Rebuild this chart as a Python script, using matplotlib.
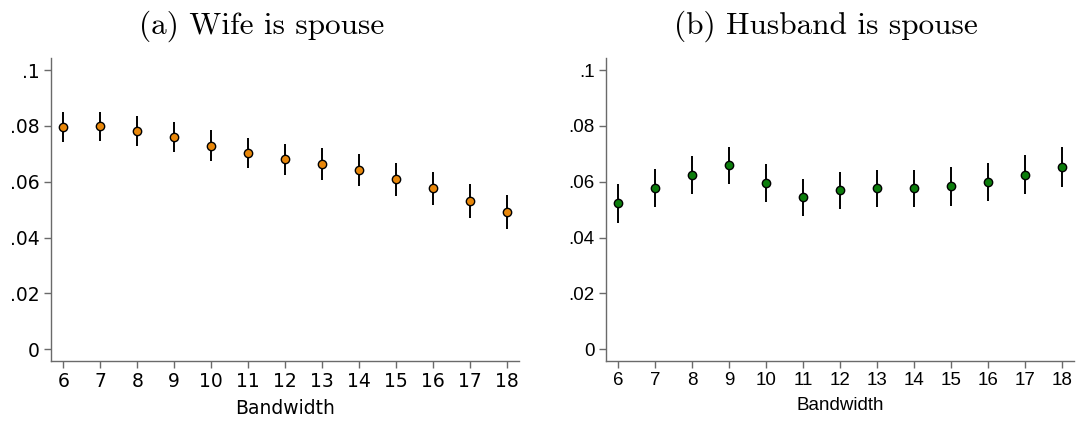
import matplotlib
matplotlib.use("Agg")
import matplotlib.pyplot as plt

# Bandwidth sensitivity: point estimates with 95% CIs
bandwidth = [6, 7, 8, 9, 10, 11, 12, 13, 14, 15, 16, 17, 18]

wife_est = [0.0797, 0.0798, 0.0783, 0.0761, 0.0729, 0.0702, 0.0681,
            0.0663, 0.0642, 0.0609, 0.0576, 0.0531, 0.0490]
wife_hi = [0.0851, 0.0851, 0.0835, 0.0815, 0.0784, 0.0757, 0.0735,
           0.0720, 0.0699, 0.0666, 0.0634, 0.0591, 0.0551]
wife_lo = [0.0743, 0.0746, 0.0729, 0.0707, 0.0675, 0.0648, 0.0624,
           0.0606, 0.0585, 0.0550, 0.0518, 0.0471, 0.0432]

husb_est = [0.0523, 0.0578, 0.0625, 0.0659, 0.0597, 0.0544, 0.0569,
            0.0576, 0.0576, 0.0584, 0.0598, 0.0625, 0.0653]
husb_hi = [0.0592, 0.0647, 0.0692, 0.0725, 0.0662, 0.0610, 0.0635,
           0.0643, 0.0643, 0.0652, 0.0667, 0.0696, 0.0723]
husb_lo = [0.0451, 0.0508, 0.0556, 0.0592, 0.0528, 0.0477, 0.0502,
           0.0509, 0.0508, 0.0514, 0.0530, 0.0556, 0.0582]

yticks = [0, 0.02, 0.04, 0.06, 0.08, 0.1]
ytick_labels = ["0", ".02", ".04", ".06", ".08", ".1"]

W, H = 1078, 425
fig = plt.figure(figsize=(W / 100, H / 100), dpi=100)

panels = [
    # (left px, title, title centre px, estimates, hi, lo, colour, font)
    (51, "(a) Wife is spouse", 262, wife_est, wife_hi, wife_lo, "#e8870a", "DejaVu Sans"),
    (606, "(b) Husband is spouse", 826, husb_est, husb_hi, husb_lo, "#0c7d0c", "Liberation Sans"),
]

ax_w = 468 / W
ax_b = 64 / H
ax_h = (361 - 58.3) / H
spine_col = "#6a6a6a"

for left, title, tx, est, hi, lo, col, fam in panels:
    ax = fig.add_axes([left / W, ax_b, ax_w, ax_h])
    ax.vlines(bandwidth, lo, hi, color="black", lw=1.4, zorder=2)
    ax.plot(bandwidth, est, "o", ms=6, mfc=col, mec="black", mew=1.0, zorder=3)

    ax.set_xlim(5.667, 18.333)
    ax.set_ylim(-0.0042, 0.1042)
    ax.set_xticks(bandwidth)
    ax.set_yticks(yticks)
    ax.set_yticklabels(ytick_labels)

    for s in ["top", "right"]:
        ax.spines[s].set_visible(False)
    for s in ["left", "bottom"]:
        ax.spines[s].set_color(spine_col)
        ax.spines[s].set_linewidth(1.0)
    ax.tick_params(length=5, width=1.0, color=spine_col, pad=3.2,
                   labelsize=13.5, labelcolor="black")
    for lab in ax.get_xticklabels() + ax.get_yticklabels():
        lab.set_family(fam)

    ax.set_xlabel("Bandwidth", family=fam, fontsize=13.5, labelpad=5.5)

    fig.text(tx / W, 1 - 33.3 / H, title, family="cmr10", fontsize=22.5,
             ha="center", va="baseline")

fig.savefig("out.png", dpi=100)
